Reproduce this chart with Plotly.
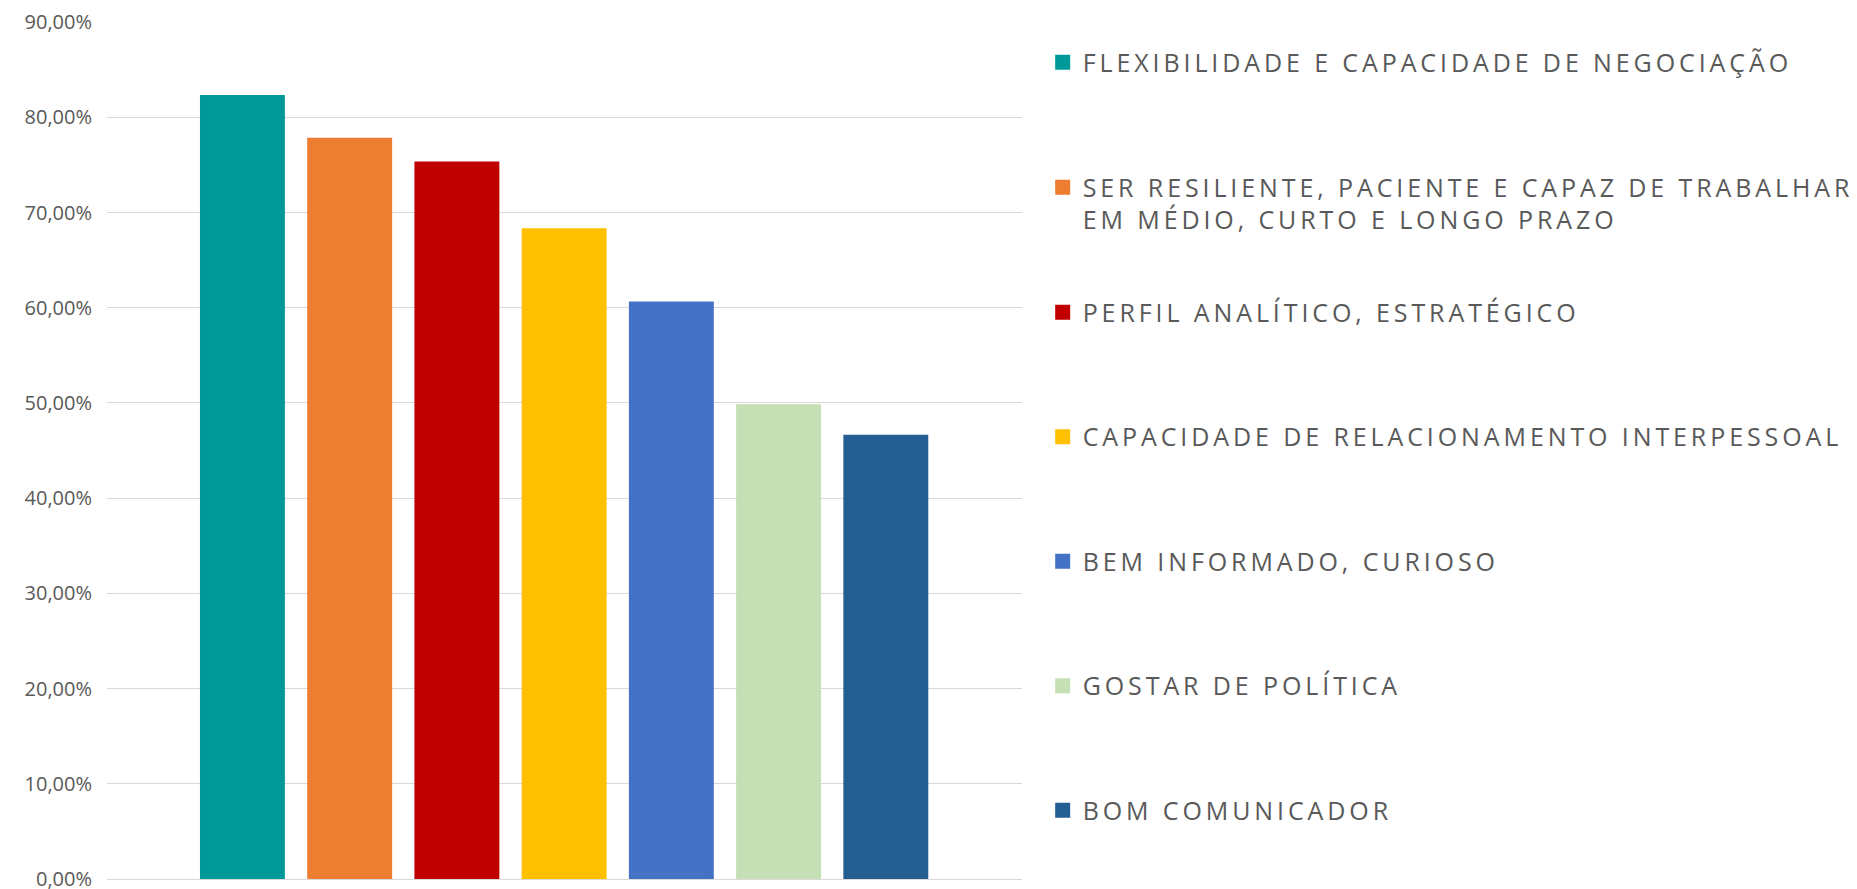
import plotly.graph_objects as go

categories = [
    "FLEXIBILIDADE E CAPACIDADE DE NEGOCIAÇÃO",
    "SER RESILIENTE, PACIENTE E CAPAZ DE TRABALHAR EM MÉDIO, CURTO E LONGO PRAZO",
    "PERFIL ANALÍTICO, ESTRATÉGICO",
    "CAPACIDADE DE RELACIONAMENTO INTERPESSOAL",
    "BEM INFORMADO, CURIOSO",
    "GOSTAR DE POLÍTICA",
    "BOM COMUNICADOR",
]
legend_lines = [
    ["FLEXIBILIDADE E CAPACIDADE DE NEGOCIAÇÃO"],
    ["SER RESILIENTE, PACIENTE E CAPAZ DE TRABALHAR", "EM MÉDIO, CURTO E LONGO PRAZO"],
    ["PERFIL ANALÍTICO, ESTRATÉGICO"],
    ["CAPACIDADE DE RELACIONAMENTO INTERPESSOAL"],
    ["BEM INFORMADO, CURIOSO"],
    ["GOSTAR DE POLÍTICA"],
    ["BOM COMUNICADOR"],
]
values = [0.822, 0.777, 0.752, 0.682, 0.605, 0.497, 0.465]
colors = ["#009999", "#ED7D31", "#C00000", "#FFC000", "#4472C4", "#C5E0B4", "#255E91"]
y_ticks = [0, 0.1, 0.2, 0.3, 0.4, 0.5, 0.6, 0.7, 0.8, 0.9]

TEXT = "#595959"
GRID = "#d9d9d9"
LS = "letter-spacing:3.9px"

fig = go.Figure()
for i, (cat, val, col) in enumerate(zip(categories, values, colors)):
    label = "<br>".join(f'<span style="{LS}">{ln}</span>' for ln in legend_lines[i])
    fig.add_trace(go.Bar(
        x=[cat], y=[val], name=label,
        marker=dict(color=col, line=dict(width=3, color=col)),
        width=0.764,
        legendgroup=f"g{i}",
        legend="legend" if i < 2 else "legend2",
        hovertemplate=cat + ": %{y:.2%}<extra></extra>",
    ))

legend_font = dict(family="Open Sans, sans-serif", size=25, color=TEXT)

fig.update_layout(
    width=1849, height=881,
    margin=dict(l=99, r=835, t=14, b=10, autoexpand=False),
    paper_bgcolor="white", plot_bgcolor="white",
    separators=",.",
    barmode="relative",
    showlegend=True,
    legend=dict(x=1.0226, xanchor="left", y=0.9797, yanchor="top",
                font=legend_font, tracegroupgap=89.5, valign="top",
                bgcolor="rgba(0,0,0,0)", borderwidth=0, traceorder="grouped"),
    legend2=dict(x=1.0226, xanchor="left", y=0.688, yanchor="top",
                 font=legend_font, tracegroupgap=89, valign="top",
                 bgcolor="rgba(0,0,0,0)", borderwidth=0, traceorder="grouped"),
    xaxis=dict(type="category", categoryorder="array", categoryarray=categories,
               range=[-1.263, 7.27], showticklabels=False, showgrid=False,
               zeroline=False, showline=False, ticks=""),
    yaxis=dict(range=[0, 0.9002], tickvals=y_ticks, tickformat=".2%",
               showgrid=True, gridcolor=GRID, gridwidth=1.4,
               zeroline=True, zerolinecolor=GRID, zerolinewidth=1.4,
               showline=False, ticks="", ticklabelstandoff=14,
               ticklabeloverflow="allow",
               tickfont=dict(family="Open Sans, sans-serif", size=20, color=TEXT)),
)

fig.write_html("out.html")
